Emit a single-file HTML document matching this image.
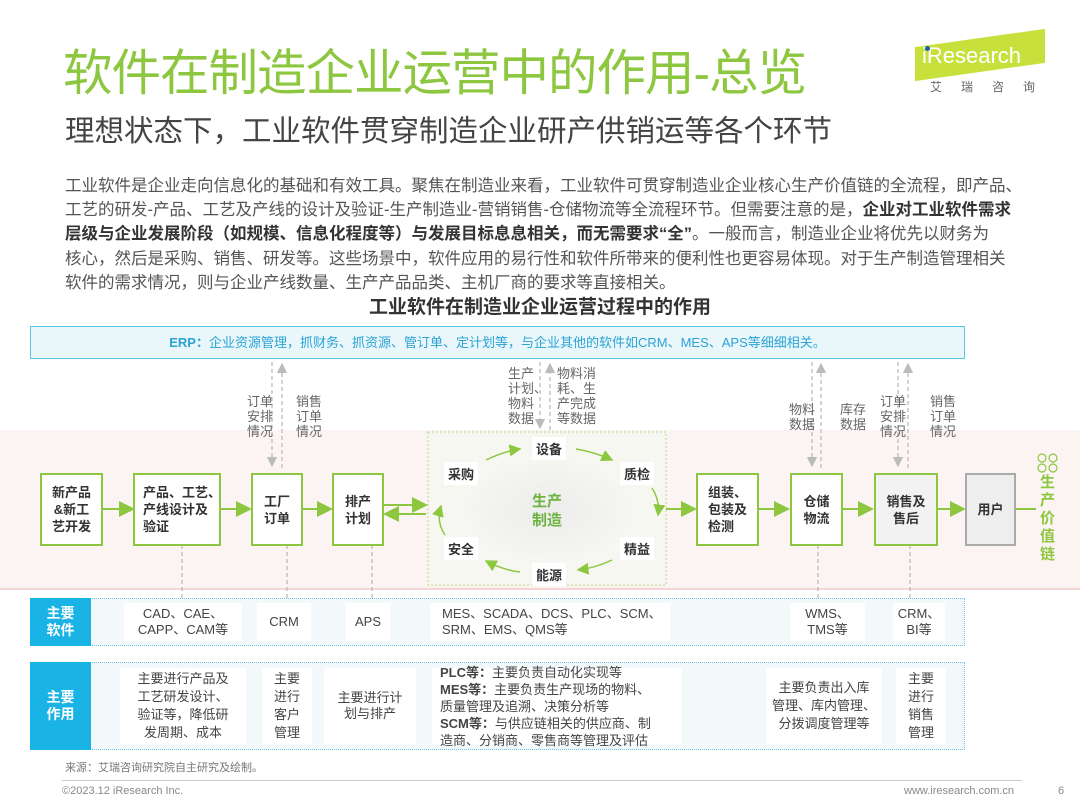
<!DOCTYPE html>
<html><head><meta charset="utf-8"><style>
*{margin:0;padding:0;box-sizing:border-box}
body{width:1080px;height:810px;position:relative;background:#fff;font-family:"Liberation Sans","Noto Sans CJK SC",sans-serif;overflow:hidden;color:#333}
.a{position:absolute}
.gb{position:absolute;border:2px solid #8dc63f;background:#fff;font-weight:bold;font-size:13px;line-height:17px;color:#333;display:flex;align-items:center;justify-content:center;text-align:center;white-space:nowrap}
.lbl{position:absolute;font-size:13px;line-height:15px;color:#666;white-space:nowrap}
.cl{position:absolute;font-weight:bold;font-size:13px;color:#333;background:#fff;padding:2px 4px}
.cell{position:absolute;background:#fff;font-size:13px;line-height:16px;color:#444;display:flex;align-items:center;justify-content:center;text-align:center;white-space:nowrap}
.side{position:absolute;background:#1ab3e6;color:#fff;font-weight:bold;font-size:14px;line-height:17px;display:flex;align-items:center;justify-content:center;text-align:center}
.row{position:absolute;left:30px;width:935px;background:#f3f9fb;border:1px dotted #6cc9e3}
</style></head><body>
<div class="a" style="left:63px;top:43px;font-size:49.5px;color:#8dc63f;letter-spacing:-1px;line-height:62px;white-space:nowrap">软件在制造企业运营中的作用-总览</div>
<div class="a" style="left:915px;top:38px;width:130px;height:34px;background:#c8e03c;transform:skewY(-8deg)"></div>
<div class="a" style="left:922px;top:42px;font-size:22px;color:#fff;line-height:28px">iResearch</div>
<div class="a" style="left:925px;top:46px;width:5px;height:5px;border-radius:50%;background:#1a5fa8"></div>
<div class="a" style="left:930px;top:78px;font-size:12px;color:#666;letter-spacing:19px">艾瑞咨询</div>
<div class="a" style="left:65px;top:113px;font-size:29.5px;color:#444;line-height:38px;white-space:nowrap">理想状态下，工业软件贯穿制造企业研产供销运等各个环节</div>
<div class="a" style="left:65px;top:174px;width:975px;font-size:16.5px;line-height:24.2px;color:#555">工业软件是企业走向信息化的基础和有效工具。聚焦在制造业来看，工业软件可贯穿制造业企业核心生产价值链的全流程，即产品、<br>工艺的研发-产品、工艺及产线的设计及验证-生产制造业-营销销售-仓储物流等全流程环节。但需要注意的是，<b style="color:#333">企业对工业软件需求<br>层级与企业发展阶段（如规模、信息化程度等）与发展目标息息相关，而无需要求“全”</b>。一般而言，制造业企业将优先以财务为<br>核心，然后是采购、销售、研发等。这些场景中，软件应用的易行性和软件所带来的便利性也更容易体现。对于生产制造管理相关<br>软件的需求情况，则与企业产线数量、生产产品品类、主机厂商的要求等直接相关。</div>
<div class="a" style="left:0;width:1080px;top:292px;text-align:center;font-size:19px;font-weight:bold;color:#333">工业软件在制造业企业运营过程中的作用</div>

<div class="a" style="left:0;top:430px;width:1080px;height:160px;background:#fcf4f3;border-bottom:2px solid #f3d6d4"></div>
<div class="a" style="left:30px;top:326px;width:935px;height:33px;background:#e9f7fb;border:1px solid #5cc7e2;text-align:center;font-size:13px;line-height:31px;color:#2ba3d5"><b>ERP：</b>企业资源管理，抓财务、抓资源、管订单、定计划等，与企业其他的软件如CRM、MES、APS等细细相关。</div>

<svg class="a" style="left:0;top:0" width="1080" height="810">
<defs><marker id="g" markerWidth="8" markerHeight="8" refX="7" refY="4" orient="auto"><path d="M0,0L8,4L0,8z" fill="#8dc63f"/></marker>
<marker id="d" markerWidth="8" markerHeight="8" refX="7" refY="4" orient="auto"><path d="M0,0L8,4L0,8z" fill="#bbb"/></marker>
<radialGradient id="rg"><stop offset="0" stop-color="#ececec"/><stop offset="1" stop-color="#f7f7f3"/></radialGradient></defs>
<rect x="428" y="432" width="238" height="153" fill="#f7f7f2" stroke="#b6d98a" stroke-dasharray="2,2"/>
<ellipse cx="548" cy="510" rx="95" ry="58" fill="url(#rg)"/>
<g stroke="#bbb" stroke-width="1.3" stroke-dasharray="4,3" fill="none">
<line x1="272" y1="362" x2="272" y2="466" marker-end="url(#d)"/><line x1="282" y1="468" x2="282" y2="364" marker-end="url(#d)"/>
<line x1="540" y1="362" x2="540" y2="428" marker-end="url(#d)"/><line x1="550" y1="430" x2="550" y2="364" marker-end="url(#d)"/>
<line x1="812" y1="362" x2="812" y2="466" marker-end="url(#d)"/><line x1="821" y1="468" x2="821" y2="364" marker-end="url(#d)"/>
<line x1="898" y1="362" x2="898" y2="466" marker-end="url(#d)"/><line x1="908" y1="468" x2="908" y2="364" marker-end="url(#d)"/>
<line x1="182" y1="545" x2="182" y2="605"/><line x1="287" y1="545" x2="287" y2="605"/><line x1="372" y1="545" x2="372" y2="605"/>
<line x1="818" y1="545" x2="818" y2="605"/><line x1="910" y1="545" x2="910" y2="605"/>
</g>
<g stroke="#8dc63f" stroke-width="2" fill="none">
<line x1="102" y1="509" x2="133" y2="509" marker-end="url(#g)"/>
<line x1="220" y1="509" x2="250" y2="509" marker-end="url(#g)"/>
<line x1="302" y1="509" x2="331" y2="509" marker-end="url(#g)"/>
<line x1="383" y1="505" x2="426" y2="505" marker-end="url(#g)"/>
<line x1="426" y1="514" x2="385" y2="514" marker-end="url(#g)"/>
<line x1="666" y1="509" x2="695" y2="509" marker-end="url(#g)"/>
<line x1="758" y1="509" x2="788" y2="509" marker-end="url(#g)"/>
<line x1="842" y1="509" x2="872" y2="509" marker-end="url(#g)"/>
<line x1="937" y1="509" x2="964" y2="509" marker-end="url(#g)"/>
<line x1="1015" y1="509" x2="1036" y2="509"/>
</g>
<g stroke="#8dc63f" stroke-width="1.5" fill="none">
<path d="M486,460 Q505,451 520,449" marker-end="url(#g)"/>
<path d="M576,449 Q595,452 612,460" marker-end="url(#g)"/>
<path d="M652,488 Q660,500 658,515" marker-end="url(#g)"/>
<path d="M612,560 Q595,568 578,570" marker-end="url(#g)"/>
<path d="M520,572 Q503,570 486,561" marker-end="url(#g)"/>
<path d="M445,535 Q436,522 441,506" marker-end="url(#g)"/>
</g>
<g fill="none" stroke="#8dc63f" stroke-width="1.2"><circle cx="1042" cy="458" r="4"/><circle cx="1053" cy="458" r="4"/><circle cx="1042" cy="468" r="4"/><circle cx="1053" cy="468" r="4"/></g>
</svg>

<div class="lbl" style="left:247px;top:394px">订单<br>安排<br>情况</div>
<div class="lbl" style="left:296px;top:394px">销售<br>订单<br>情况</div>
<div class="lbl" style="left:508px;top:366px">生产<br>计划、<br>物料<br>数据</div>
<div class="lbl" style="left:557px;top:366px">物料消<br>耗、生<br>产完成<br>等数据</div>
<div class="lbl" style="left:789px;top:402px">物料<br>数据</div>
<div class="lbl" style="left:840px;top:402px">库存<br>数据</div>
<div class="lbl" style="left:880px;top:394px">订单<br>安排<br>情况</div>
<div class="lbl" style="left:930px;top:394px">销售<br>订单<br>情况</div>

<div class="gb" style="left:40px;top:473px;width:63px;height:73px">新产品<br>&amp;新工<br>艺开发</div>
<div class="gb" style="left:133px;top:473px;width:88px;height:73px;text-align:left;justify-content:flex-start;padding-left:8px">产品、工艺、<br>产线设计及<br>验证</div>
<div class="gb" style="left:251px;top:473px;width:52px;height:73px">工厂<br>订单</div>
<div class="gb" style="left:332px;top:473px;width:52px;height:73px">排产<br>计划</div>
<div class="gb" style="left:696px;top:473px;width:63px;height:73px;text-align:left;justify-content:flex-start;padding-left:10px">组装、<br>包装及<br>检测</div>
<div class="gb" style="left:790px;top:473px;width:53px;height:73px">仓储<br>物流</div>
<div class="gb" style="left:874px;top:473px;width:64px;height:73px;background:#f2f2f2">销售及<br>售后</div>
<div class="gb" style="left:965px;top:473px;width:51px;height:73px;border-color:#aaa;background:#eee">用户</div>
<div class="a" style="left:1040px;top:474px;width:16px;font-size:15px;line-height:18px;font-weight:bold;color:#8dc63f">生产价值链</div>

<div class="cl" style="left:444px;top:462px">采购</div>
<div class="cl" style="left:532px;top:437px">设备</div>
<div class="cl" style="left:620px;top:462px">质检</div>
<div class="cl" style="left:620px;top:537px">精益</div>
<div class="cl" style="left:532px;top:563px">能源</div>
<div class="cl" style="left:444px;top:537px">安全</div>
<div class="a" style="left:532px;top:492px;font-size:15px;line-height:19px;font-weight:bold;color:#6db33f">生产<br>制造</div>

<div class="row" style="top:598px;height:48px"></div>
<div class="side" style="left:30px;top:598px;width:61px;height:48px">主要<br>软件</div>
<div class="cell" style="left:124px;top:603px;width:118px;height:38px">CAD、CAE、<br>CAPP、CAM等</div>
<div class="cell" style="left:257px;top:603px;width:54px;height:38px">CRM</div>
<div class="cell" style="left:346px;top:603px;width:44px;height:38px">APS</div>
<div class="cell" style="left:430px;top:603px;width:240px;height:38px;justify-content:flex-start;text-align:left;padding-left:12px">MES、SCADA、DCS、PLC、SCM、<br>SRM、EMS、QMS等</div>
<div class="cell" style="left:790px;top:603px;width:75px;height:38px">WMS、<br>TMS等</div>
<div class="cell" style="left:893px;top:603px;width:52px;height:38px">CRM、<br>BI等</div>

<div class="row" style="top:662px;height:88px"></div>
<div class="side" style="left:30px;top:662px;width:61px;height:88px">主要<br>作用</div>
<div class="cell" style="left:120px;top:668px;width:126px;height:76px;line-height:18px">主要进行产品及<br>工艺研发设计、<br>验证等，降低研<br>发周期、成本</div>
<div class="cell" style="left:262px;top:668px;width:50px;height:76px;line-height:18px">主要<br>进行<br>客户<br>管理</div>
<div class="cell" style="left:324px;top:668px;width:92px;height:76px">主要进行计<br>划与排产</div>
<div class="cell" style="left:432px;top:668px;width:250px;height:76px;justify-content:flex-start;text-align:left;padding-left:8px;line-height:17px"><div><b>PLC等：</b>主要负责自动化实现等<br><b>MES等：</b>主要负责生产现场的物料、<br>质量管理及追溯、决策分析等<br><b>SCM等：</b>与供应链相关的供应商、制<br>造商、分销商、零售商等管理及评估</div></div>
<div class="cell" style="left:766px;top:668px;width:116px;height:76px;line-height:18px">主要负责出入库<br>管理、库内管理、<br>分拨调度管理等</div>
<div class="cell" style="left:896px;top:668px;width:50px;height:76px;line-height:18px">主要<br>进行<br>销售<br>管理</div>

<div class="a" style="left:65px;top:759px;font-size:11px;color:#777">来源：艾瑞咨询研究院自主研究及绘制。</div>
<div class="a" style="left:62px;top:780px;width:960px;height:1px;background:#ccc"></div>
<div class="a" style="left:62px;top:785px;font-size:11px;color:#888">©2023.12 iResearch Inc.</div>
<div class="a" style="left:904px;top:785px;font-size:11px;color:#888">www.iresearch.com.cn</div>
<div class="a" style="left:1058px;top:785px;font-size:11px;color:#888">6</div>
</body></html>
